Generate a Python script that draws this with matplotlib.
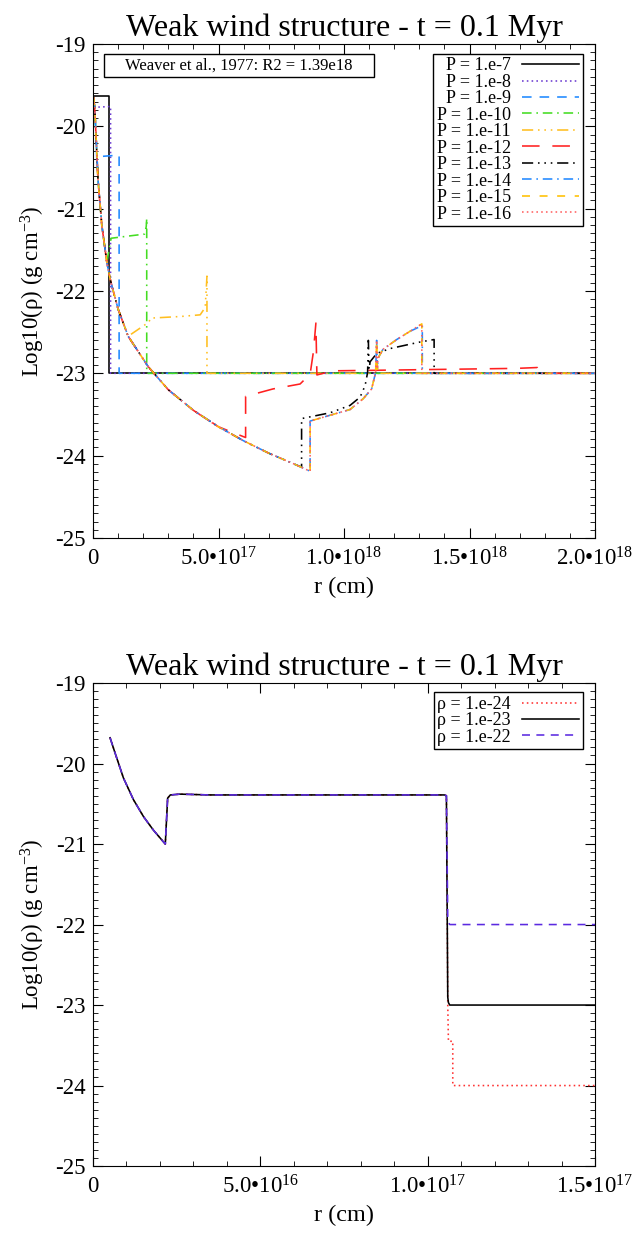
import matplotlib
matplotlib.use("Agg")
import matplotlib.pyplot as plt
import numpy as np
from matplotlib.ticker import MultipleLocator, FuncFormatter
from matplotlib.patches import Rectangle

plt.rcParams["font.family"] = ["Liberation Serif", "DejaVu Serif"]
plt.rcParams["mathtext.fontset"] = "custom"
plt.rcParams["mathtext.rm"] = "Liberation Serif"
plt.rcParams["mathtext.it"] = "Liberation Serif:italic"
plt.rcParams["mathtext.bf"] = "Liberation Serif:bold"
plt.rcParams["axes.unicode_minus"] = False

# ---- top panel data (r in 1e17 cm, log10 rho) ----
wind_r = [0.03, 0.08, 0.2, 0.35, 0.55, 0.7, 1.0, 1.4, 2.2, 3.0, 4.0, 5.0, 6.0, 7.0, 8.0, 8.7]
wind_rho = [-19.65, -19.85, -20.65, -21.2, -21.65, -21.88, -22.22, -22.55, -22.92, -23.2,
            -23.45, -23.65, -23.82, -23.97, -24.1, -24.2]

p_labels = ["P = 1.e-7", "P = 1.e-8", "P = 1.e-9", "P = 1.e-10", "P = 1.e-11",
            "P = 1.e-12", "P = 1.e-13", "P = 1.e-14", "P = 1.e-15", "P = 1.e-16"]

# reverse shock radius (wind kept below it), then shell points
p_rs = [0.0, 0.0, 0.1, 0.7, 2.2, 6.0, 8.3, 8.65, 8.65, 8.65]
shell_r = [
    [0.01, 0.64, 0.64, 20],
    [0.02, 0.70, 0.70, 20],
    [0.15, 0.16, 1.04, 1.04, 20],
    [0.72, 1.5, 2.05, 2.12, 2.14, 2.14, 20],
    [2.22, 2.3, 3.5, 4.27, 4.47, 4.54, 4.54, 20],
    [6.08, 6.08, 7.17, 8.25, 8.65, 8.78, 8.88, 8.92, 9.57, 12.1, 16.9, 17.7, 17.7, 20],
    [8.31, 8.31, 9.44, 10.24, 10.64, 10.84, 10.94, 10.97, 11.0, 11.04, 11.3, 11.83, 13.03, 13.59, 13.59, 20],
    [8.65, 8.65, 9.44, 10.24, 10.76, 11.1, 11.26, 11.3, 11.33, 11.35, 11.55, 12.1, 12.63, 13.12, 13.12, 20],
    [8.65, 8.65, 9.44, 10.24, 10.76, 11.1, 11.26, 11.3, 11.33, 11.35, 11.55, 12.1, 12.63, 13.1, 13.1, 20],
    [8.65, 8.65, 9.44, 10.24, 10.76, 11.1, 11.26, 11.3, 11.33, 11.35, 11.55, 12.1, 12.63, 13.1, 13.1, 20],
]
shell_rho = [
    [-19.63, -19.63, -23, -23],
    [-19.77, -19.76, -23, -23],
    [-20.4, -20.37, -20.35, -23, -23],
    [-21.36, -21.33, -21.31, -21.22, -21.12, -23, -23],
    [-22.38, -22.33, -22.31, -22.29, -22.2, -21.82, -23, -23],
    [-23.78, -23.28, -23.19, -23.13, -23.01, -22.74, -22.39, -23.02, -22.97, -22.96, -22.94, -22.93, -23, -23],
    [-24.14, -23.55, -23.48, -23.39, -23.29, -23.15, -22.99, -22.6, -22.95, -22.86, -22.76, -22.70, -22.62, -22.59, -23, -23],
    [-24.19, -23.58, -23.51, -23.44, -23.31, -23.19, -22.99, -22.6, -22.95, -22.82, -22.71, -22.59, -22.49, -22.42, -23, -23],
    [-24.19, -23.58, -23.51, -23.44, -23.31, -23.19, -22.99, -22.6, -22.95, -22.82, -22.71, -22.59, -22.49, -22.40, -23, -23],
    [-24.19, -23.58, -23.51, -23.44, -23.31, -23.19, -22.99, -22.6, -22.95, -22.82, -22.71, -22.59, -22.49, -22.40, -23, -23],
]
p_colors = ["black", "#6a3ad0", "#1e88ff", "#44dd22", "#ffbf20",
            "#ff2020", "black", "#2288ff", "#ffc000", "#ff6060"]
p_styles = ["-", (0, (1, 2)), (0, (6, 5)), (0, (6, 3, 1, 3)), (0, (7, 3, 1, 3, 1, 3, 1, 3)),
            (0, (11, 8)), (0, (7, 3, 1, 3, 1, 3, 1, 3)), (0, (6, 3, 1, 3)), (0, (5, 6)), (0, (1, 2))]

# ---- bottom panel data (r in 1e16 cm) ----
rho_labels = ["ρ = 1.e-24", "ρ = 1.e-23", "ρ = 1.e-22"]
base_r = [0.51, 0.66, 0.91, 1.21, 1.51, 1.81, 2.16, 2.23, 2.31, 2.6, 3.5, 6.0, 9.0, 10.5, 10.56]
base_rho = [-19.68, -19.87, -20.18, -20.45, -20.66, -20.83, -21.0, -20.43, -20.39, -20.38,
            -20.39, -20.39, -20.39, -20.39, -20.4]
tail_r = [
    [10.6, 10.6, 10.62, 10.75, 10.75, 15.0],
    [10.6, 10.62, 10.66, 10.7, 15.0],
    [10.6, 10.63, 10.66, 15.0],
]
tail_rho = [
    [-22.9, -23.0, -23.45, -23.45, -24.0, -24.0],
    [-22.9, -22.97, -23.0, -23.0, -23.0],
    [-21.9, -21.98, -22.0, -22.0],
]
rho_colors = ["#ff3030", "black", "#5b2ae0"]
rho_styles = [(0, (1, 2)), "-", (0, (5, 4))]

fig = plt.figure(figsize=(6.34, 12.41), dpi=100)
ax1 = fig.add_axes([0.1467, 0.5665, 0.7918, 0.3981])
ax2 = fig.add_axes([0.1467, 0.0604, 0.7918, 0.3892])

for i in range(len(p_labels)):
    wr = [r for r in wind_r if r < p_rs[i]]
    wy = [y for r, y in zip(wind_r, wind_rho) if r < p_rs[i]]
    x = np.array(wr + shell_r[i]) * 1e17
    y = np.array(wy + shell_rho[i])
    ax1.plot(x, y, color=p_colors[i], ls=p_styles[i], lw=1.15, label=p_labels[i])

for i in range(len(rho_labels)):
    x = np.array(base_r + tail_r[i]) * 1e16
    y = np.array(base_rho + tail_rho[i])
    ax2.plot(x, y, color=rho_colors[i], ls=rho_styles[i], lw=1.15, label=rho_labels[i])


def sci_fmt(v, pos):
    if v == 0:
        return "0"
    e = int(np.floor(np.log10(abs(v)) + 1e-9))
    return "%.1f•10$^{%d}$" % (v / 10 ** e, e)


for ax, xmax, xmaj, xmin in [(ax1, 2e18, 5e17, 1e17), (ax2, 1.5e17, 5e16, 1e16)]:
    ax.set_xlim(0, xmax)
    ax.set_ylim(-25, -19)
    ax.xaxis.set_major_locator(MultipleLocator(xmaj))
    ax.xaxis.set_minor_locator(MultipleLocator(xmin))
    ax.yaxis.set_major_locator(MultipleLocator(1))
    ax.yaxis.set_minor_locator(MultipleLocator(0.1))
    ax.xaxis.set_major_formatter(FuncFormatter(sci_fmt))
    ax.yaxis.set_major_formatter(FuncFormatter(lambda v, p: "%d" % round(v)))
    ax.tick_params(which="both", direction="in", top=True, right=True, labelsize=16.5)
    ax.tick_params(axis="x", pad=7)
    ax.tick_params(axis="y", pad=5)
    ax.tick_params(which="major", length=7)
    ax.tick_params(which="minor", length=3.5)
    ax.set_xlabel("r (cm)", fontsize=17.5, labelpad=4)
    ax.set_ylabel("Log10(ρ) (g cm$^{-3}$)", fontsize=16.5, labelpad=6)
    ax.set_title("Weak wind structure - t = 0.1 Myr", fontsize=23, pad=6)

leg_kw = dict(markerfirst=False, fontsize=13, labelspacing=-0.03, handlelength=3.2,
              handletextpad=0.6, borderpad=0.2, fancybox=False, framealpha=1,
              edgecolor="black", borderaxespad=0, loc="upper right")
l1 = ax1.legend(bbox_to_anchor=(0.976, 0.98), **leg_kw)
l2 = ax2.legend(bbox_to_anchor=(0.976, 0.981), **leg_kw)
for l in (l1, l2):
    l.get_frame().set_linewidth(1.0)

ax1.add_patch(Rectangle((0.0219, 0.9332), 0.538, 0.0466, transform=ax1.transAxes,
                        fc="white", ec="black", lw=1.0, zorder=5))
ax1.text(0.291, 0.9565, "Weaver et al., 1977: R2 = 1.39e18", transform=ax1.transAxes,
         fontsize=12, va="center", ha="center", zorder=6)

fig.savefig("out.png", dpi=100)
